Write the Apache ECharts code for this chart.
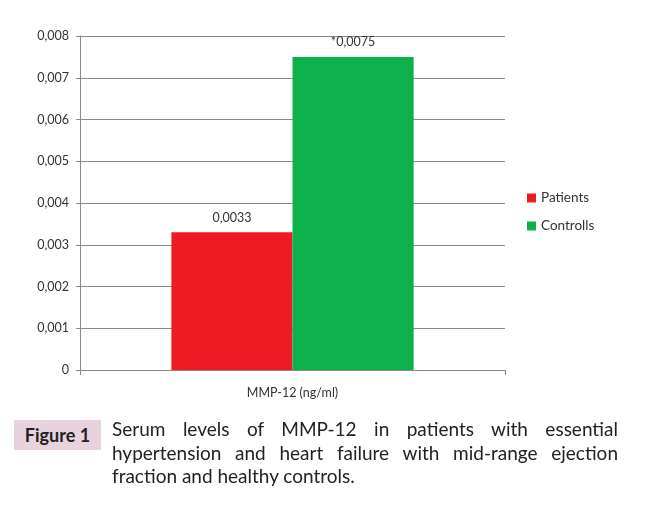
<!DOCTYPE html>
<html><head><meta charset="utf-8">
<script src="https://cdn.jsdelivr.net/npm/echarts@6/dist/echarts.min.js"></script>
<style>
html,body{margin:0;padding:0;background:#fff;}
#chart{position:absolute;left:0;top:0;width:650px;height:508px;}
#cap{position:absolute;left:14px;top:417px;width:606px;font-family:Lato,"Open Sans",sans-serif;color:#222;}
#fig{position:absolute;left:0;top:3px;width:87px;height:30px;background:#e7d3de;font-weight:bold;font-size:18px;line-height:30px;text-align:center;color:#222;}
#txt{position:absolute;left:98px;top:0;width:506px;font-size:19px;line-height:23.5px;text-align:justify;}
</style></head>
<body>
<div id="chart"></div>
<div id="cap"><div id="fig">Figure 1</div><div id="txt">Serum levels of MMP-12 in patients with essential hypertension and heart failure with mid-range ejection fraction and healthy controls.</div></div>
<script>
const categories = ["MMP-12 (ng/ml)"];
const seriesNames = ["Patients", "Controlls"];
const patients = [0.0033];
const controls = [0.0075];
const labelPrefix = ["", "*"];
const colors = ["#ed1c24", "#0db14b"];

const fmt = v => String(v).replace('.', ',');
const chart = echarts.init(document.getElementById('chart'));
const font = 'Lato, "Open Sans", sans-serif';
chart.setOption({
  animation: false,
  textStyle: {fontFamily: font},
  grid: {left: 80, top: 36, width: 425, height: 334},
  legend: {
    orient: 'vertical', left: 522, top: 186, itemWidth: 9, itemHeight: 9, itemGap: 14,
    icon: 'rect', data: seriesNames,
    textStyle: {fontSize: 13.5, color: '#333', fontFamily: font}
  },
  xAxis: {
    type: 'category', data: categories,
    axisLine: {lineStyle: {color: '#8a8a8a'}},
    axisTick: {show: true, alignWithLabel: false, lineStyle: {color: '#8a8a8a'}},
    axisLabel: {fontSize: 12.5, color: '#333', margin: 16, fontFamily: font}
  },
  yAxis: {
    type: 'value', min: 0, max: 0.008, interval: 0.001,
    axisLine: {show: true, lineStyle: {color: '#8a8a8a'}},
    axisTick: {show: true, length: 4, lineStyle: {color: '#8a8a8a'}},
    splitLine: {lineStyle: {color: '#8a8a8a'}},
    axisLabel: {fontSize: 12.5, color: '#333', margin: 11, fontFamily: font,
      formatter: v => v === 0 ? '0' : v.toFixed(3).replace('.', ',')}
  },
  series: [
    {name: seriesNames[0], type: 'bar', data: patients, barGap: '0%', barCategoryGap: '43%',
     itemStyle: {color: colors[0]},
     label: {show: true, position: 'top', distance: 8, fontSize: 12.5, color: '#333', fontFamily: font,
       formatter: p => labelPrefix[0] + fmt(p.value)}},
    {name: seriesNames[1], type: 'bar', data: controls, barGap: '0%', barCategoryGap: '43%',
     itemStyle: {color: colors[1]},
     label: {show: true, position: 'top', distance: 8, fontSize: 12.5, color: '#333', fontFamily: font,
       formatter: p => labelPrefix[1] + fmt(p.value)}}
  ]
});
</script>
</body></html>
